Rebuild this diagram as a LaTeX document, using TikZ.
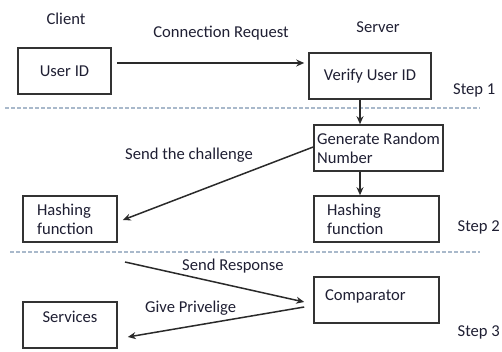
\documentclass[tikz,border=0pt]{standalone}
\usepackage{fontspec}
\setmainfont{Carlito}
\usetikzlibrary{arrows.meta}
\definecolor{boxline}{HTML}{333333}
\definecolor{arrline}{HTML}{2A2A2A}
\definecolor{sepline}{HTML}{A9B9CB}
\definecolor{txt}{HTML}{1F1F33}
\begin{document}
\begin{tikzpicture}[x=1pt,y=-1pt,
  font=\fontsize{16.6}{19}\selectfont,
  every node/.style={text=txt},
  box/.style={draw=boxline, line width=1.6pt, minimum height=46pt, inner ysep=0pt, fill=white},
  arr/.style={draw=arrline, line width=1.5pt, -{Stealth[length=8pt,width=7pt]}},
  sep/.style={draw=sepline, line width=1.2pt, dash pattern=on 4pt off 2pt},
  lbl/.style={inner sep=0pt}]
\useasboundingbox (0,0) rectangle (502,352);

% separators
\draw[sep] (5,108) -- (480,108);
\draw[sep] (10,252) -- (480,252);

% headers
\node[lbl] (client) at (66,19) {Client};
\node[lbl] (server) at (378,27) {Server};
\node[lbl] (creq) at (221,33) {Connection Request};
\node[lbl, anchor=west] (s1) at (453,90) {Step 1};
\node[lbl, anchor=east] (s2) at (500,227) {Step 2};
\node[lbl, anchor=east] (s3) at (500,332) {Step 3};

% boxes
\node[box, minimum width=93pt] (uid) at (64.5,71) {User ID};
\node[box, minimum width=122pt] (ver) at (370,76) {Verify User ID};
\node[box, minimum width=129pt, inner xsep=1pt, align=left] (gen) at (378.5,148) {Generate Random\\Number};
\node[box, minimum width=125pt, inner xsep=13pt, text width=99pt, align=left] (hr) at (376.5,219) {Hashing\\function};
\node[box, minimum width=94pt, inner xsep=14pt, text width=66pt, align=left] (hl) at (70,219) {Hashing\\function};
\node[box, minimum width=125pt, inner xsep=11pt, text width=103pt, align=left, text depth=9pt] (cmp) at (376.5,300) {Comparator};
\node[box, minimum width=94pt, text depth=16pt] (sv) at (70,325) {Services};

% arrow labels
\node[lbl, anchor=west] (lch) at (125,155) {Send the challenge};
\node[lbl, anchor=west] (lsr) at (182,266) {Send Response};
\node[lbl, anchor=west] (lgp) at (145,308) {Give Privelige};

% connectors
\draw[arr] ([shift={(5,-8)}]uid.east) -- ([shift={(-4,-13)}]ver.west);
\draw[arr] ([xshift=-10pt]ver.south) -- ([xshift=-10pt]ver.south |- gen.north);
\draw[arr] ([xshift=-18.5pt]gen.south) -- ([xshift=-18.5pt]gen.south |- hr.north);
\draw[arr] ([yshift=1pt]gen.west) -- ([shift={(5,1)}]hl.east);
\coordinate (srs) at (125,262);
\draw[arr] (srs) -- ([shift={(-9,2)}]cmp.west);
\draw[arr] ([shift={(-9,7)}]cmp.west) -- ([shift={(10,12)}]sv.east);
\end{tikzpicture}
\end{document}
